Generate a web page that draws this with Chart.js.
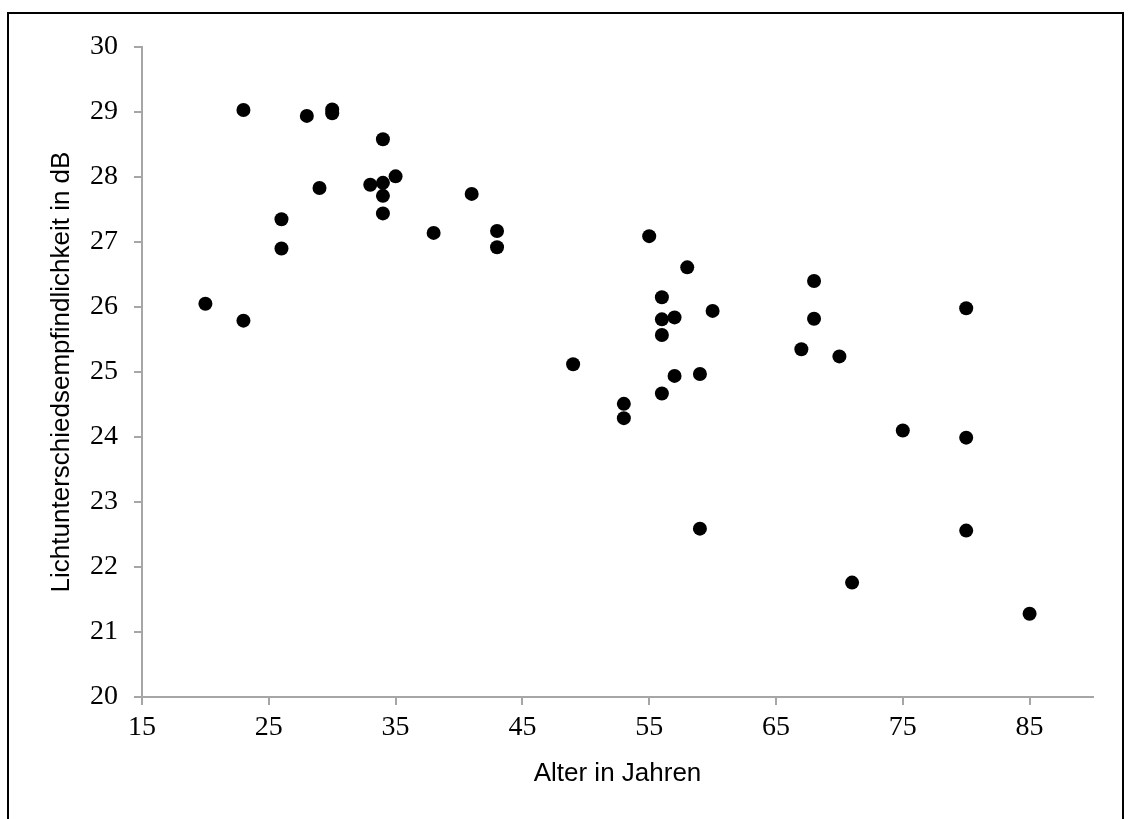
<!DOCTYPE html>
<html>
<head>
<meta charset="utf-8">
<script src="https://cdn.jsdelivr.net/npm/chart.js@4.4.1/dist/chart.umd.min.js"></script>
<style>
  html, body { margin: 0; padding: 0; background: #fff; overflow: hidden; }
  #frame {
    position: absolute; left: 7px; top: 12px;
    width: 1113px; height: 820px;
    border: 2px solid #000; box-sizing: content-box;
  }
  #wrap { position: absolute; left: 0; top: 0; width: 1130px; height: 819px; }
</style>
</head>
<body>
<div id="frame"></div>
<div id="wrap"><canvas id="chart"></canvas></div>
<script>
// Alter (Jahre) und Lichtunterschiedsempfindlichkeit (dB)
const ages = [20, 23, 23, 26, 26, 28, 29, 30, 30, 33, 34, 34, 34, 34, 35, 38, 41, 43, 43,
  49, 53, 53, 55, 56, 56, 56, 56, 57, 57, 58, 59, 59, 60, 67, 68, 68, 70, 71, 75, 80, 80, 80, 85];
const sensitivity = [26.05, 29.03, 25.79, 27.35, 26.90, 28.94, 27.83, 29.04, 28.98, 27.88, 28.58, 27.91, 27.71, 27.44, 28.01, 27.14, 27.74, 27.17, 26.92,
  25.12, 24.51, 24.29, 27.09, 26.15, 25.81, 25.57, 24.67, 25.84, 24.94, 26.61, 24.97, 22.59, 25.94, 25.35, 26.40, 25.82, 25.24, 21.76, 24.10, 25.98, 23.99, 22.56, 21.28];

const xTicks = [15, 25, 35, 45, 55, 65, 75, 85];
const yTicks = [20, 21, 22, 23, 24, 25, 26, 27, 28, 29, 30];

const AXIS_GREY = "#a6a6a6";
const TICK_FONT = { family: "'Liberation Serif', 'Times New Roman', serif", size: 28 };
const TITLE_FONT = { family: "'Liberation Sans', Arial, sans-serif", size: 26 };

const points = ages.map((a, i) => ({ x: a, y: sensitivity[i] }));

new Chart(document.getElementById("chart"), {
  type: "scatter",
  data: {
    datasets: [{
      data: points,
      backgroundColor: "#000",
      borderColor: "#000",
      borderWidth: 0,
      pointRadius: 7,
      pointHoverRadius: 7
    }]
  },
  options: {
    responsive: true,
    maintainAspectRatio: false,
    animation: false,
    layout: { padding: { left: 0, top: 47, right: 37, bottom: 30 } },
    plugins: { legend: { display: false }, tooltip: { enabled: false } },
    scales: {
      x: {
        type: "linear",
        min: 15,
        max: 90,
        afterBuildTicks: (s) => { s.ticks = xTicks.map((v) => ({ value: v })); },
        afterFit: (s) => { s.height = 92; },
        grid: { drawOnChartArea: false, drawTicks: true, tickLength: 8, color: AXIS_GREY, lineWidth: 2 },
        border: { display: true, color: AXIS_GREY, width: 2 },
        ticks: { color: "#000", font: TICK_FONT, padding: 6, maxRotation: 0 },
        title: { display: true, text: "Alter in Jahren", color: "#000", font: TITLE_FONT, padding: { top: 6, bottom: 0 } }
      },
      y: {
        type: "linear",
        min: 20,
        max: 30,
        afterBuildTicks: (s) => { s.ticks = yTicks.map((v) => ({ value: v })); },
        afterFit: (s) => { s.width = 142; },
        grid: { drawOnChartArea: false, drawTicks: true, tickLength: 8, color: AXIS_GREY, lineWidth: 2 },
        border: { display: true, color: AXIS_GREY, width: 2 },
        ticks: { color: "#000", font: TICK_FONT, padding: 16 },
        title: { display: true, text: "Lichtunterschiedsempfindlichkeit in dB", color: "#000", font: TITLE_FONT, padding: { top: 46, bottom: 0 } }
      }
    }
  }
});
</script>
</body>
</html>
